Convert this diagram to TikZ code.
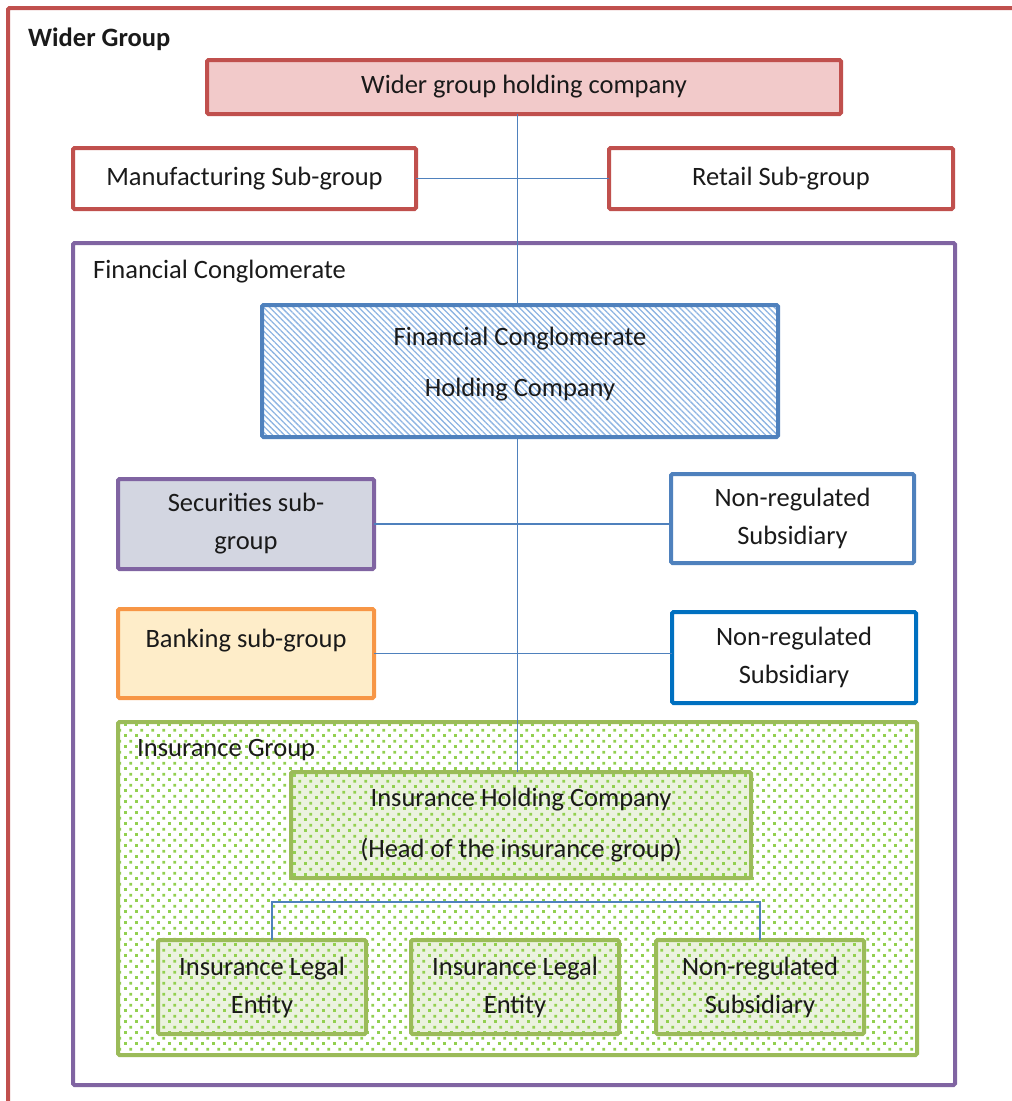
\documentclass[tikz,border=0pt]{standalone}
\usepackage{fontspec}
\setmainfont{Carlito}
\usetikzlibrary{patterns,patterns.meta}

\definecolor{wgred}{HTML}{C0504D}
\definecolor{wgpink}{HTML}{F2CACA}
\definecolor{fcpurple}{HTML}{8064A2}
\definecolor{fcblue}{HTML}{4F81BD}
\definecolor{hatchblue}{HTML}{8DB4E2}
\definecolor{secfill}{HTML}{D3D6E1}
\definecolor{bankorange}{HTML}{F79646}
\definecolor{bankfill}{HTML}{FEEDC9}
\definecolor{nrblue}{HTML}{0070C0}
\definecolor{insgreen}{HTML}{9BBB59}
\definecolor{dotgreen}{HTML}{92D050}
\definecolor{insfill}{HTML}{EBF2DF}
\definecolor{txt}{HTML}{1A1A1A}

\tikzdeclarepattern{
  name=insdots,
  type=uncolored,
  bounding box={(0pt,0pt) and (11.3pt,11.3pt)},
  tile size={(11.3pt,11.3pt)},
  code={
    \fill (0pt,0pt) rectangle (3pt,3pt);
    \fill (5.65pt,5.65pt) rectangle (8.65pt,8.65pt);
  }
}

\tikzset{
  box/.style={draw, line width=4pt, rounded corners=1.5pt, align=center,
    inner sep=0pt, outer sep=0pt, text=txt},
  insbox/.style={box, draw=insgreen, preaction={fill=insfill},
    pattern=insdots, pattern color=dotgreen},
  frame/.style={line width=4pt, rounded corners=1.5pt},
  conn/.style={draw=fcblue, line width=1.8pt},
  title/.style={anchor=west, inner sep=0pt, text=txt}
}

\begin{document}
\begin{tikzpicture}[x=1pt, y=-1pt, font=\fontsize{26.5}{38}\selectfont]
\useasboundingbox (0,0) rectangle (1012,1101);
\clip (0,0) rectangle (1012,1101);

% group frames
\draw [frame, draw=wgred] (8,8) rectangle (1040,1130);
\draw [frame, draw=fcpurple] (73,243) rectangle (955,1085);
\draw [frame, draw=insgreen, pattern=insdots, pattern color=dotgreen] (118,722) rectangle (917,1055);

\node [title, font=\fontsize{26.5}{38}\selectfont\bfseries] (wgtitle) at (28,39) {Wider Group};
\node [title] (fctitle) at (93,272) {Financial Conglomerate};
\node [title] (igtitle) at (137,750) {Insurance Group};

% wider group
\node [box, draw=wgred, fill=wgpink, minimum width=634pt, minimum height=54pt] (wgh) at (524,87) {Wider group holding company};
\node [box, draw=wgred, fill=white, minimum width=343pt, minimum height=61pt] (mfg) at (244.5,178.5) {Manufacturing Sub-group};
\node [box, draw=wgred, fill=white, minimum width=344pt, minimum height=61pt] (rtl) at (781,178.5) {Retail Sub-group};

% financial conglomerate
\node [box, draw=fcblue, pattern={Lines[angle=-45,distance=4.2pt,line width=1.3pt]}, pattern color=hatchblue,
  minimum width=516pt, minimum height=132pt, text depth=18pt] (fch) at (520,371) {Financial Conglomerate\\[13pt]Holding Company};
\node [box, draw=fcpurple, fill=secfill, minimum width=256pt, minimum height=90pt] (sec) at (246,524) {Securities sub-\\group};
\node [box, draw=fcblue, fill=white, minimum width=243pt, minimum height=89pt] (nr1) at (792.5,518.5) {Non-regulated\\Subsidiary};
\node [box, draw=bankorange, fill=bankfill, minimum width=256pt, minimum height=89pt, text depth=30pt] (bank) at (246,653.5) {Banking sub-group};
\node [box, draw=nrblue, fill=white, minimum width=244pt, minimum height=91pt] (nr2) at (794,657.5) {Non-regulated\\Subsidiary};

% insurance group
\node [insbox, minimum width=460pt, minimum height=106pt] (ih) at (521,825) {Insurance Holding Company\\[13pt](Head of the insurance group)};
\node [insbox, minimum width=208pt, minimum height=94pt] (le1) at (262,987) {Insurance Legal\\Entity};
\node [insbox, minimum width=208pt, minimum height=94pt] (le2) at (515,987) {Insurance Legal\\Entity};
\node [insbox, minimum width=208pt, minimum height=94pt] (nr3) at (760,987) {Non-regulated\\Subsidiary};

% connectors
\coordinate (spine) at (517.5,0);
\coordinate (bar) at (0,902);
\draw [conn] (wgh.south -| spine) -- (fch.north -| spine);
\draw [conn] (mfg.east) -- (rtl.west);
\draw [conn] (fch.south -| spine) -- (ih.north -| spine);
\draw [conn] (sec.east) -- (sec.east -| nr1.west);
\draw [conn] (bank.east) -- (bank.east -| nr2.west);
\draw [conn] ([xshift=10pt]le1.north) -- ([xshift=10pt]le1.north |- bar) -- (nr3.north |- bar) -- (nr3.north);
\end{tikzpicture}
\end{document}
